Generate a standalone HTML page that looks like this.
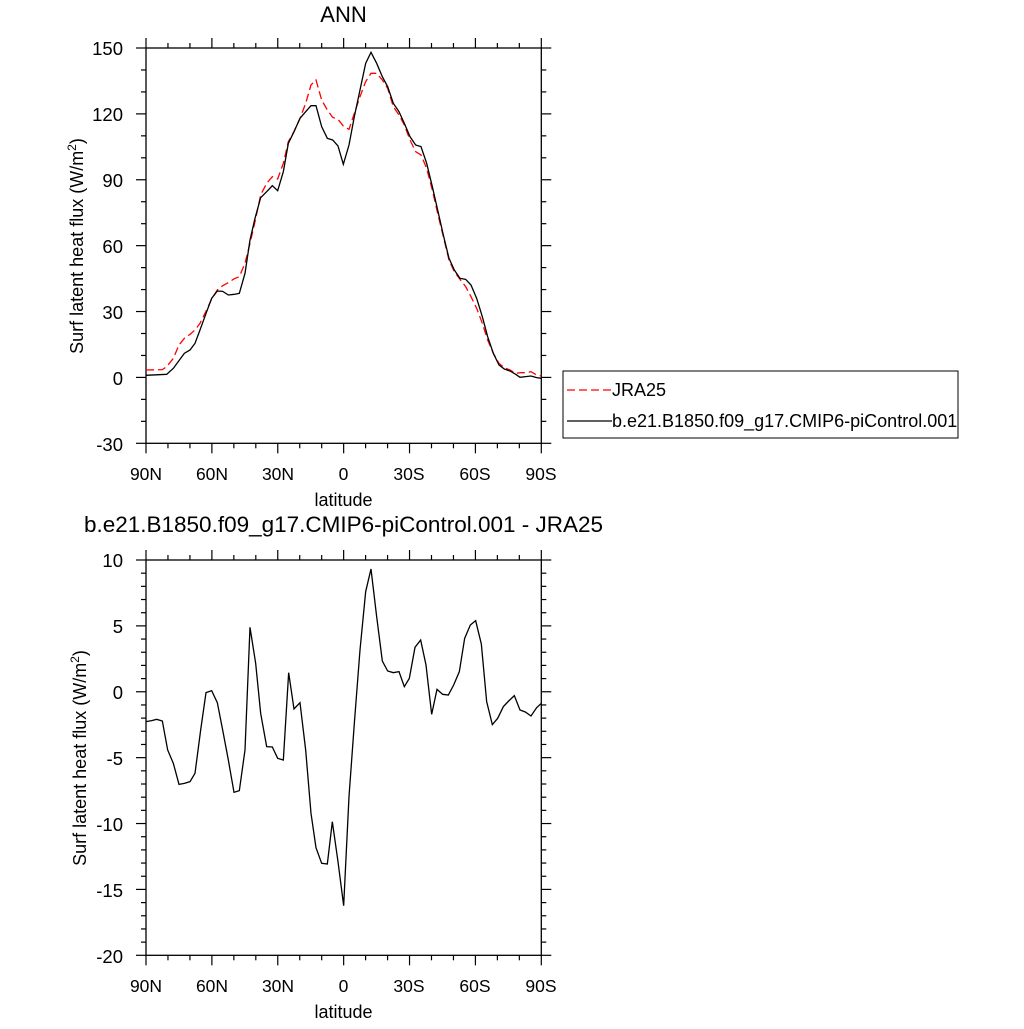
<!DOCTYPE html>
<html><head><meta charset="utf-8"><style>
body{margin:0;background:#fff}
text{font-family:"Liberation Sans",sans-serif;fill:#000}
</style></head><body>
<svg width="1024" height="1024" viewBox="0 0 1024 1024" xmlns="http://www.w3.org/2000/svg">
<rect width="1024" height="1024" fill="#fff"/>
<!-- Top plot -->
<text x="343.5" y="22" font-size="22" text-anchor="middle">ANN</text>
<rect x="146" y="48" width="395.3" height="395.3" fill="none" stroke="#000" stroke-width="1.3"/>
<g font-size="18.5" text-anchor="end">
<text x="123" y="55">150</text><text x="123" y="121">120</text><text x="123" y="187">90</text><text x="123" y="253">60</text><text x="123" y="319">30</text><text x="123" y="385">0</text><text x="123" y="451">-30</text>
</g>
<g font-size="17.5" text-anchor="middle">
<text x="146" y="480">90N</text><text x="212" y="480">60N</text><text x="278" y="480">30N</text><text x="343.5" y="480">0</text><text x="409" y="480">30S</text><text x="475" y="480">60S</text><text x="541" y="480">90S</text>
</g>
<text x="343.5" y="506" font-size="18" text-anchor="middle">latitude</text>
<text transform="translate(83,246) rotate(-90)" font-size="18" text-anchor="middle">Surf latent heat flux (W/m<tspan font-size="12" dy="-7">2</tspan><tspan dy="7">)</tspan></text>
<g transform="translate(140 40) scale(0.33333)" fill="none">
<polyline stroke="#f00" stroke-width="1.3" vector-effect="non-scaling-stroke" stroke-dasharray="8 4" points="18,990 67,989 80,980 100,955 117,915 133,895 150,883 165,870 180,850 200,810 215,777 232,750 248,737 265,728 283,716 298,710 315,670 330,610 345,545 362,465 380,430 397,410 413,417 430,370 445,305 462,275 480,235 497,190 513,135 528,120 545,180 562,210 578,232 594,238 610,258 627,268 643,220 660,170 677,125 693,100 710,100 727,120 743,145 760,200 777,225 793,255 810,300 827,335 843,345 860,385 877,450 893,520 910,590 927,660 943,695 960,718 977,740 993,770 1010,805 1027,850 1043,900 1060,940 1077,970 1093,983 1110,990 1127,1000 1143,998 1160,998 1173,995 1190,1005 1204,1008"/>
<polyline stroke="#000" stroke-width="1.3" vector-effect="non-scaling-stroke" points="18,1006 80,1003 100,985 133,940 150,930 165,910 180,870 200,815 215,775 232,753 248,754 265,765 283,763 298,760 315,700 330,600 345,535 362,473 380,455 397,437 413,452 430,395 445,310 462,275 480,235 497,215 513,197 528,197 545,260 562,295 578,300 594,318 610,373 627,315 643,230 660,150 677,70 693,37 710,70 727,110 743,140 760,190 777,215 793,250 810,290 827,315 843,320 860,370 877,440 893,510 910,585 927,655 943,690 960,715 977,718 993,735 1010,775 1027,830 1043,890 1060,940 1077,975 1093,987 1110,993 1127,1003 1140,1012 1157,1010 1173,1008 1190,1013 1204,1015"/>
</g>
<!-- legend -->
<rect x="563" y="371" width="395" height="67" fill="none" stroke="#000" stroke-width="1"/>
<line x1="567" y1="390" x2="612" y2="390" stroke="#f00" stroke-width="1.3" stroke-dasharray="8 4"/>
<text x="612" y="396" font-size="18">JRA25</text>
<line x1="567" y1="421" x2="612" y2="421" stroke="#000" stroke-width="1.3"/>
<text x="612" y="427" font-size="18">b.e21.B1850.f09_g17.CMIP6-piControl.001</text>

<!-- Bottom plot -->
<text x="343.5" y="532" font-size="22.5" text-anchor="middle">b.e21.B1850.f09_g17.CMIP6-piControl.001 - JRA25</text>
<rect x="146" y="560" width="395.3" height="395.3" fill="none" stroke="#000" stroke-width="1.3"/>
<g font-size="18.5" text-anchor="end">
<text x="123" y="567">10</text><text x="123" y="633">5</text><text x="123" y="699">0</text><text x="123" y="765">-5</text><text x="123" y="831">-10</text><text x="123" y="897">-15</text><text x="123" y="963">-20</text>
</g>
<g font-size="17.5" text-anchor="middle">
<text x="146" y="992">90N</text><text x="212" y="992">60N</text><text x="278" y="992">30N</text><text x="343.5" y="992">0</text><text x="409" y="992">30S</text><text x="475" y="992">60S</text><text x="541" y="992">90S</text>
</g>
<text x="343.5" y="1018" font-size="18" text-anchor="middle">latitude</text>
<text transform="translate(86,758) rotate(-90)" font-size="18" text-anchor="middle">Surf latent heat flux (W/m<tspan font-size="12" dy="-7">2</tspan><tspan dy="7">)</tspan></text>
<g transform="translate(140 550) scale(0.33333)" fill="none">
<polyline stroke="#000" stroke-width="1.3" vector-effect="non-scaling-stroke" points="18,515 35,512 50,508 67,513 83,600 100,640 117,703 133,700 150,695 165,670 182,540 198,428 215,422 232,458 248,540 265,630 282,727 298,722 315,600 330,232 347,340 362,490 380,590 397,591 413,625 430,630 446,368 462,477 480,458 497,600 513,790 528,893 545,940 562,942 577,815 594,935 611,1067 627,740 643,520 660,300 677,125 693,57 710,200 727,333 743,363 760,368 777,365 793,410 808,385 825,292 842,270 858,345 875,493 891,418 908,433 925,435 941,405 958,365 974,265 991,225 1007,212 1024,282 1040,455 1057,524 1073,505 1090,470 1106,453 1123,437 1140,480 1156,486 1173,498 1190,473 1204,460"/>
</g>
<script>
var ns="http://www.w3.org/2000/svg";
function ln(g,x1,y1,x2,y2){var l=document.createElementNS(ns,"line");l.setAttribute("x1",x1);l.setAttribute("y1",y1);l.setAttribute("x2",x2);l.setAttribute("y2",y2);l.setAttribute("stroke","#000");l.setAttribute("stroke-width","1.2");g.appendChild(l);}
var svg=document.querySelector("svg");
var g=document.createElementNS(ns,"g");svg.appendChild(g);
[[48,443.3],[560,955.3]].forEach(function(p){
 var t=p[0],b=p[1];
 for(var i=0;i<=18;i++){var x=146+i*395.3/18;var L=(i%3==0)?10:5;
  ln(g,x,t,x,t-L);ln(g,x,b,x,b+L);}
 if(t==560){for(var j=0;j<=30;j++){var y=560+j*395.3/30;var L=(j%5==0)?10:5;ln(g,146,y,146-L,y);ln(g,541.3,y,541.3+L,y);}}
 else{for(var j=0;j<=18;j++){var y=48+j*395.3/18;var L=(j%3==0)?10:5;ln(g,146,y,146-L,y);ln(g,541.3,y,541.3+L,y);}}
});
</script>
</svg>
</body></html>
